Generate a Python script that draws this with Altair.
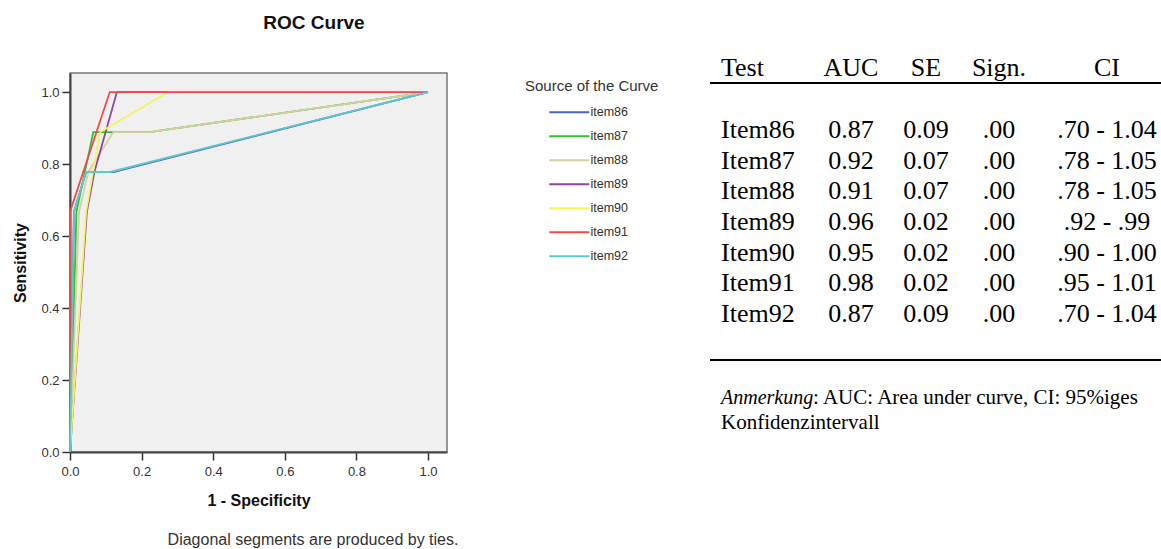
import altair as alt
import pandas as pd

# ---------------- data ----------------
items = ["item86", "item87", "item88", "item89", "item90", "item91", "item92"]
colors = ["#4a63c0", "#33c033", "#d6d0a0", "#8e44a0", "#f5f55a", "#f04b4b", "#5ec8cc"]

fpr86 = [0.0, 0.011, 0.045, 0.121, 1.0]
tpr86 = [0.0, 0.667, 0.778, 0.778, 1.0]
fpr87 = [0.0, 0.018, 0.065, 0.121, 0.222, 1.0]
tpr87 = [0.0, 0.667, 0.889, 0.889, 0.889, 1.0]
fpr88 = [0.0, 0.025, 0.051, 0.121, 0.222, 1.0]
tpr88 = [0.0, 0.667, 0.778, 0.889, 0.889, 1.0]
fpr89 = [0.0, 0.047, 0.068, 0.131, 1.0]
tpr89 = [0.0, 0.667, 0.778, 1.0, 1.0]
fpr90 = [0.0, 0.045, 0.084, 0.275, 1.0]
tpr90 = [0.0, 0.667, 0.889, 1.0, 1.0]
fpr91 = [0.0, 0.0, 0.111, 1.0]
tpr91 = [0.0, 0.667, 1.0, 1.0]
fpr92 = [0.0, 0.011, 0.045, 0.112, 1.0]
tpr92 = [0.0, 0.667, 0.778, 0.778, 1.0]

fprs = [fpr86, fpr87, fpr88, fpr89, fpr90, fpr91, fpr92]
tprs = [tpr86, tpr87, tpr88, tpr89, tpr90, tpr91, tpr92]

x_ticks = [0.0, 0.2, 0.4, 0.6, 0.8, 1.0]

tests = ["Item86", "Item87", "Item88", "Item89", "Item90", "Item91", "Item92"]
auc = ["0.87", "0.92", "0.91", "0.96", "0.95", "0.98", "0.87"]
se = ["0.09", "0.07", "0.07", "0.02", "0.02", "0.02", "0.09"]
sign = [".00", ".00", ".00", ".00", ".00", ".00", ".00"]
ci = [".70 - 1.04", ".78 - 1.05", ".78 - 1.05", ".92 - .99", ".90 - 1.00", ".95 - 1.01", ".70 - 1.04"]
headers = ["Test", "AUC", "SE", "Sign.", "CI"]

# ---------------- frames ----------------
rows = []
for it, fx, ty in zip(items, fprs, tprs):
    for i, (a, b) in enumerate(zip(fx, ty)):
        rows.append({"item": it, "fpr": a, "tpr": b, "idx": i})
roc_df = pd.DataFrame(rows)
tab_df = pd.DataFrame({"Test": tests, "AUC": auc, "SE": se, "Sign": sign, "CI": ci})

SANS = "Liberation Sans"
SERIF = "Liberation Serif"
W, H = 377, 379

lines = alt.Chart(roc_df).mark_line(strokeWidth=1.8).encode(
    x=alt.X("fpr:Q", scale=alt.Scale(domain=[0, 1.053], nice=False, zero=True),
            axis=alt.Axis(values=x_ticks, format=".1f", title="1 - Specificity", grid=False,
                          tickSize=8, tickColor="#333", tickWidth=1.5, labelFlush=False,
                          labelFontSize=13, labelColor="#333", labelFont=SANS, labelPadding=5,
                          titleFont=SANS, titleFontSize=16, titleFontWeight="bold",
                          titleColor="#111", titlePadding=14,
                          domainColor="#444", domainWidth=2)),
    y=alt.Y("tpr:Q", scale=alt.Scale(domain=[0, 1.053], nice=False, zero=True),
            axis=alt.Axis(values=x_ticks, format=".1f", title="Sensitivity", grid=False,
                          tickSize=8, tickColor="#333", tickWidth=1.5, labelFlush=False,
                          labelFontSize=13, labelColor="#333", labelFont=SANS, labelPadding=3,
                          titleFont=SANS, titleFontSize=16, titleFontWeight="bold",
                          titleColor="#111", titlePadding=12,
                          domainColor="#444", domainWidth=2)),
    color=alt.Color("item:N", scale=alt.Scale(domain=items, range=colors),
                    legend=alt.Legend(orient="none", legendX=455, legendY=6,
                                      title="Source of the Curve", titleFont=SANS,
                                      titleFontSize=15, titleFontWeight="normal",
                                      titleColor="#333", titlePadding=12,
                                      labelFont=SANS, labelFontSize=12.5, labelColor="#333",
                                      symbolType="M-4,0L4,0", symbolSize=100,
                                      symbolStrokeWidth=2, symbolOffset=38,
                                      labelOffset=15, rowPadding=11)),
    order=alt.Order("idx:Q"),
)

def note(txt, x, y, size, font=SANS, weight="normal", style="normal", align="center", color="#222"):
    return alt.Chart(pd.DataFrame({"t": [txt]})).mark_text(
        font=font, fontSize=size, fontWeight=weight, fontStyle=style, align=align,
        baseline="middle", color=color
    ).encode(x=alt.value(x), y=alt.value(y), text="t:N")

title = note("ROC Curve", 244, -50, 19, weight="bold", color="#111")
foot = note("Diagonal segments are produced by ties.", 243, 467, 16, color="#333")

# ---------------- table ----------------
ypt = alt.Y("Test:N", sort=tests, scale=alt.Scale(type="point", range=[57, 241], padding=0), axis=None)

def col(field, x, align):
    return alt.Chart(tab_df).mark_text(font=SERIF, fontSize=26, align=align, baseline="middle",
                                       color="black").encode(
        x=alt.value(x), y=ypt, text=f"{field}:N")

col_x = [651, 781, 856, 929, 1037]
aligns = ["left", "center", "center", "center", "center"]
fields = ["Test", "AUC", "SE", "Sign", "CI"]
tab_layers = [col(f, x, a) for f, x, a in zip(fields, col_x, aligns)]
head_layers = [note(h, x, -5, 26, font=SERIF, align=a, color="black")
               for h, x, a in zip(headers, col_x, aligns)]

def hline(y):
    return alt.Chart(pd.DataFrame({"k": [0]})).mark_rule(color="black", strokeWidth=2).encode(
        x=alt.value(640), x2=alt.value(1091), y=alt.value(y))

n1 = note("Anmerkung", 651, 325, 20, font=SERIF, style="italic", align="left", color="black")
n2 = note(": AUC: Area under curve, CI: 95%iges", 743, 325, 21, font=SERIF, align="left", color="black")
n3 = note("Konfidenzintervall", 651, 350, 21, font=SERIF, align="left", color="black")

chart = alt.layer(
    lines, title, foot, *tab_layers, *head_layers, hline(10), hline(287), n1, n2, n3
).resolve_scale(y="independent").properties(
    width=W, height=H,
    autosize=alt.AutoSizeParams(type="none"),
    padding={"left": 70, "top": 73, "right": 714, "bottom": 97},
).configure_view(fill="#f0f0f0", stroke="#777", strokeWidth=1.5)

chart.save("out.html", embed_options={"renderer": "svg", "actions": False})
